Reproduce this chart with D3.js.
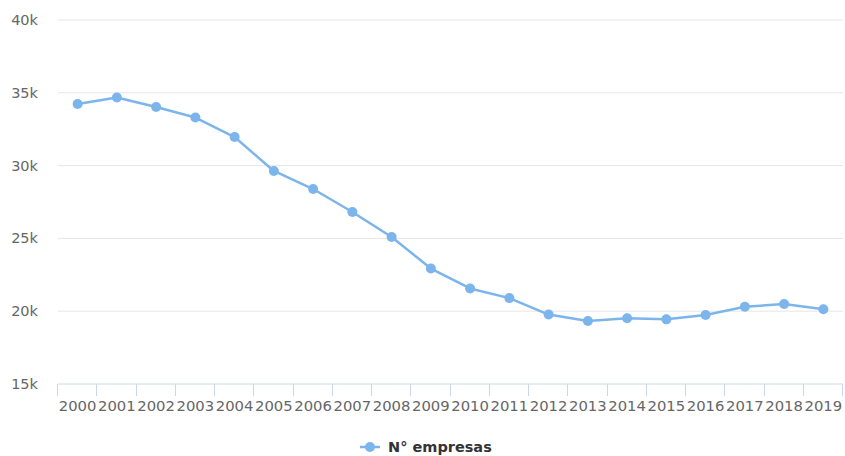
<!DOCTYPE html>
<html>
<head>
<meta charset="utf-8">
<script src="https://cdn.jsdelivr.net/npm/d3@7"></script>
<style>
  body { margin: 0; background: #fff; }
  text { font-family: "DejaVu Sans", sans-serif; }
</style>
</head>
<body>
<div id="chart"></div>
<script>
// data
const years = ["2000","2001","2002","2003","2004","2005","2006","2007","2008","2009",
               "2010","2011","2012","2013","2014","2015","2016","2017","2018","2019"];
const empresas = [34230, 34680, 34030, 33300, 31960, 29630, 28390, 26810, 25100, 22930,
                  21560, 20900, 19770, 19330, 19510, 19440, 19740, 20310, 20490, 20130];
const yTicks = [15000, 20000, 25000, 30000, 35000, 40000];
const seriesName = "N° empresas";

const W = 845, H = 456;
const margin = {top: 20, right: 2, bottom: 72, left: 58};

const svg = d3.select("#chart").append("svg")
    .attr("width", W)
    .attr("height", H);

const x = d3.scaleBand()
    .domain(years)
    .range([margin.left, W - margin.right]);

const y = d3.scaleLinear()
    .domain([15000, 40000])
    .range([H - margin.bottom, margin.top]);

// gridlines
svg.append("g")
    .selectAll("line")
    .data(yTicks.slice(1))
    .join("line")
    .attr("x1", margin.left)
    .attr("x2", W - margin.right)
    .attr("y1", d => y(d))
    .attr("y2", d => y(d))
    .attr("stroke", "#e6e6e6")
    .attr("stroke-width", 1);

// y labels
svg.append("g")
    .selectAll("text")
    .data(yTicks)
    .join("text")
    .attr("x", 38)
    .attr("y", d => y(d) + 5)
    .attr("text-anchor", "end")
    .attr("fill", "#666")
    .style("font-size", "14.5px")
    .text(d => (d / 1000) + "k");

// x axis
const xAxis = svg.append("g")
    .attr("transform", `translate(0, ${y(15000)})`);

xAxis.append("line")
    .attr("x1", margin.left)
    .attr("x2", W - margin.right)
    .attr("stroke", "#ccd6eb");

const bounds = years.map(d => x(d)).concat([x.range()[1]]);
xAxis.selectAll("line.tick")
    .data(bounds)
    .join("line")
    .attr("class", "tick")
    .attr("x1", d => Math.round(d) - 0.5)
    .attr("x2", d => Math.round(d) - 0.5)
    .attr("y1", 0)
    .attr("y2", 12)
    .attr("stroke", "#ccd6eb");

xAxis.selectAll("text")
    .data(years)
    .join("text")
    .attr("x", d => x(d) + x.bandwidth() / 2)
    .attr("y", 27)
    .attr("text-anchor", "middle")
    .attr("fill", "#666")
    .style("font-size", "14.8px")
    .text(d => d);

// line
const color = "#7cb5ec";
const pts = years.map((d, i) => [x(d) + x.bandwidth() / 2, y(empresas[i])]);

svg.append("path")
    .attr("d", d3.line()(pts))
    .attr("fill", "none")
    .attr("stroke", color)
    .attr("stroke-width", 2.5)
    .attr("stroke-linejoin", "round");

svg.append("g")
    .selectAll("circle")
    .data(pts)
    .join("circle")
    .attr("cx", d => d[0])
    .attr("cy", d => d[1])
    .attr("r", 5)
    .attr("fill", color);

// legend
const legend = svg.append("g")
    .attr("transform", "translate(360, 447)");

legend.append("line")
    .attr("x1", 0)
    .attr("x2", 20)
    .attr("stroke", color)
    .attr("stroke-width", 2.5);

legend.append("circle")
    .attr("cx", 10)
    .attr("r", 5)
    .attr("fill", color);

legend.append("text")
    .attr("x", 28)
    .attr("y", 5)
    .attr("fill", "#333")
    .style("font-size", "14.5px")
    .style("font-weight", "bold")
    .text(seriesName);
</script>
</body>
</html>
